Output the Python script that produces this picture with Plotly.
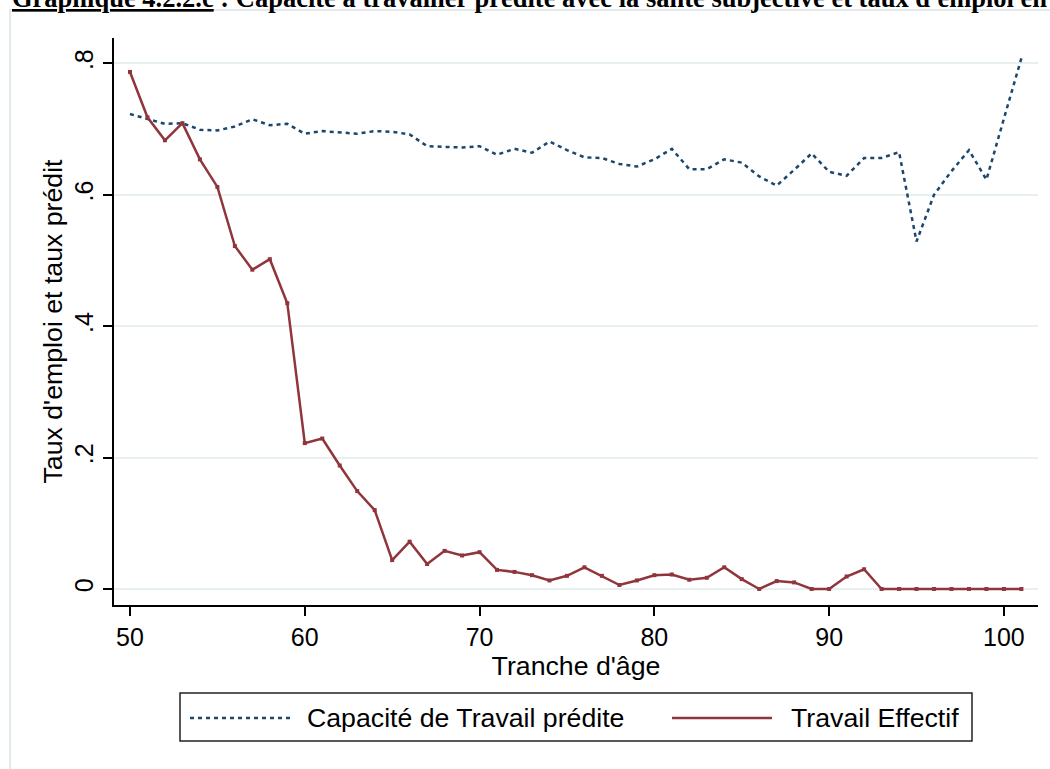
import plotly.graph_objects as go

# ---- data ----
ages = list(range(50, 102))
capacite_predite = [0.723, 0.716, 0.708, 0.709, 0.699, 0.698, 0.704, 0.715, 0.706, 0.708,
                    0.693, 0.697, 0.695, 0.693, 0.697, 0.696, 0.692, 0.674, 0.673, 0.672,
                    0.674, 0.661, 0.670, 0.664, 0.681, 0.668, 0.657, 0.656, 0.647, 0.643,
                    0.654, 0.670, 0.639, 0.639, 0.654, 0.649, 0.628, 0.614, 0.638, 0.663,
                    0.635, 0.629, 0.656, 0.656, 0.665, 0.529, 0.600, 0.636, 0.668, 0.623,
                    0.716, 0.808]
travail_effectif = [0.787, 0.718, 0.683, 0.709, 0.654, 0.612, 0.522, 0.486, 0.502, 0.435,
                    0.222, 0.229, 0.188, 0.149, 0.120, 0.044, 0.072, 0.038, 0.058, 0.051,
                    0.056, 0.029, 0.026, 0.021, 0.013, 0.020, 0.033, 0.020, 0.006, 0.013,
                    0.021, 0.022, 0.014, 0.017, 0.033, 0.015, 0.000, 0.012, 0.010, 0.000,
                    0.000, 0.019, 0.030, 0.000, 0.000, 0.000, 0.000, 0.000, 0.000, 0.000,
                    0.000, 0.000]
ytick_vals = [0, 0.2, 0.4, 0.6, 0.8]
ytick_text = ["0", ".2", ".4", ".6", ".8"]
xtick_vals = [50, 60, 70, 80, 90, 100]
series_names = ["Capacité de Travail prédite", "Travail Effectif"]

BLUE = "#1a476f"
RED = "#90353b"
GRID = "#e8eff1"
FONT = "Liberation Sans, Arial, sans-serif"
TXT = 26.7

W, H = 1050, 769
L, R, T, B = 114, 12, 38, 164
PW, PH = W - L - R, H - T - B


def px(x):
    return (x - L) / PW


def py(y):
    return (H - B - y) / PH


fig = go.Figure()
fig.add_trace(go.Scatter(x=ages, y=capacite_predite, mode="lines", name=series_names[0],
                         line=dict(color=BLUE, width=2.5, dash="4px,4px"), showlegend=False))
fig.add_trace(go.Scatter(x=ages, y=travail_effectif, mode="lines+markers", name=series_names[1],
                         line=dict(color=RED, width=2.5),
                         marker=dict(symbol="square", size=4, color=RED), showlegend=False))

shapes = [
    # outer graph-region frame
    dict(type="rect", xref="paper", yref="paper", x0=px(10), x1=px(1200), y0=py(900), y1=py(10),
         line=dict(color="#e3eaed", width=2), layer="below"),
    # legend box
    dict(type="rect", xref="paper", yref="paper", x0=px(180), x1=px(972), y0=py(741), y1=py(693),
         line=dict(color="#222222", width=1.5), fillcolor="white"),
    dict(type="line", xref="paper", yref="paper", x0=px(190), x1=px(290), y0=py(718), y1=py(718),
         line=dict(color=BLUE, width=2.5, dash="4px,4px")),
    dict(type="line", xref="paper", yref="paper", x0=px(672), x1=px(772), y0=py(718), y1=py(718),
         line=dict(color=RED, width=2.5)),
]

annotations = [
    dict(xref="paper", yref="paper", x=px(305), y=py(718), xanchor="left", yanchor="middle",
         text=series_names[0], showarrow=False, font=dict(family=FONT, size=TXT, color="black")),
    dict(xref="paper", yref="paper", x=px(789), y=py(718), xanchor="left", yanchor="middle",
         text=series_names[1], showarrow=False, font=dict(family=FONT, size=TXT, color="black")),
    dict(xref="paper", yref="paper", x=px(10), y=py(15), xanchor="left", yanchor="bottom",
         text="<b><u>Graphique 4.2.2.c</u> : Capacité à travailler prédite avec la santé subjective et taux d'emploi en</b>",
         showarrow=False, font=dict(family="Liberation Serif, Times New Roman, serif", size=26.5, color="black")),
]

fig.update_layout(
    width=W, height=H,
    margin=dict(l=L, r=R, t=T, b=B),
    paper_bgcolor="white", plot_bgcolor="white",
    font=dict(family=FONT, size=25, color="black"),
    shapes=shapes, annotations=annotations,
    xaxis=dict(range=[49.085, 101.95], tickvals=xtick_vals, showgrid=False, zeroline=False,
               showline=True, linecolor="black", linewidth=1.5, ticks="outside", ticklen=9,
               tickwidth=1.5, tickcolor="black", tickfont=dict(size=25),
               title=dict(text="Tranche d'âge", font=dict(size=TXT), standoff=0)),
    yaxis=dict(range=[-0.0244, 0.8387], tickvals=ytick_vals, ticktext=ytick_text, tickangle=-90,
               showgrid=True, gridcolor=GRID, gridwidth=2, zeroline=False,
               showline=True, linecolor="black", linewidth=1.5, ticks="outside", ticklen=9,
               tickwidth=1.5, tickcolor="black", tickfont=dict(size=25),
               title=dict(text="Taux d'emploi et taux prédit", font=dict(size=TXT), standoff=0)),
)

fig.write_html("out.html", config={"displayModeBar": False},
               post_script="document.body.style.margin='0';document.body.style.overflow='hidden';")
